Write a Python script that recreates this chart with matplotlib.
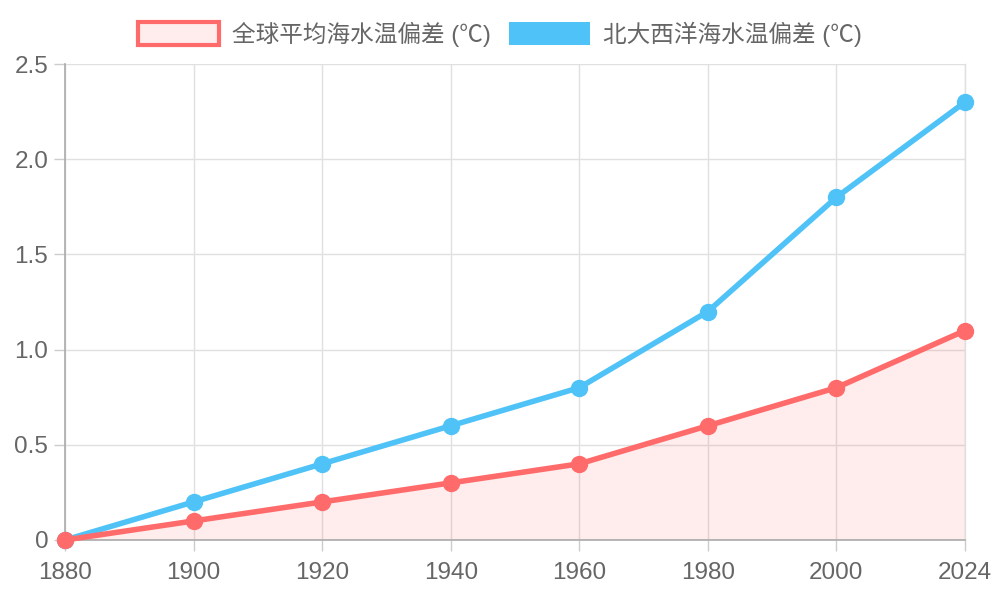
import matplotlib
matplotlib.use("Agg")
import matplotlib.pyplot as plt
from matplotlib.patches import Patch

plt.rcParams['font.family'] = ['Liberation Sans', 'Noto Sans CJK SC', 'DejaVu Sans']

years = ["1880", "1900", "1920", "1940", "1960", "1980", "2000", "2024"]
global_sst = [0, 0.1, 0.2, 0.3, 0.4, 0.6, 0.8, 1.1]
natl_sst = [0, 0.2, 0.4, 0.6, 0.8, 1.2, 1.8, 2.3]
labels = ["全球平均海水温偏差 (℃)", "北大西洋海水温偏差 (℃)"]

red = "#FF6B6B"
blue = "#4FC3F7"
fill_red = (1.0, 0.42, 0.42, 0.12)
txt = "#666666"

fig = plt.figure(figsize=(10, 6), dpi=100)
ax = fig.add_axes([0.065, 0.1, 0.9, 0.7933])
x = list(range(len(years)))

ax.fill_between(x, 0, global_sst, color=fill_red, linewidth=0, zorder=1)
ax.plot(x, natl_sst, color=blue, lw=4, marker='o', ms=11.5, mfc=blue, mec=blue, zorder=3, clip_on=False)
ax.plot(x, global_sst, color=red, lw=4, marker='o', ms=11.5, mfc=red, mec=red, zorder=4, clip_on=False)

ax.set_xlim(0, len(years) - 1)
ax.set_ylim(0, 2.5)
ax.set_xticks(x)
ax.set_xticklabels(years)
ax.set_yticks([0, 0.5, 1.0, 1.5, 2.0, 2.5])
ax.set_yticklabels(["0", "0.5", "1.0", "1.5", "2.0", "2.5"])
ax.tick_params(axis='both', colors="#cccccc", labelcolor=txt, labelsize=17.5, length=8, width=1)
ax.tick_params(axis='x', pad=8)
ax.tick_params(axis='y', pad=4)
ax.grid(True, color="#e0e0e0", lw=1)
ax.set_axisbelow(True)
ax.spines['top'].set_visible(False)
ax.spines['right'].set_color("#e0e0e0")
ax.spines['right'].set_linewidth(1)
for s in ['left', 'bottom']:
    ax.spines[s].set_color("#aaaaaa")
    ax.spines[s].set_linewidth(1.2)

handles = [Patch(facecolor=fill_red, edgecolor=red, linewidth=3),
           Patch(facecolor=blue, edgecolor=blue, linewidth=0)]
fig.legend(handles, labels, loc='upper center', bbox_to_anchor=(0.5, 1.0), ncol=2,
           frameon=False, fontsize=17, labelcolor=txt, handlelength=3.4, handleheight=1.1,
           handletextpad=0.55, columnspacing=0.8, borderaxespad=0.5)

fig.savefig("out.png", dpi=100)
